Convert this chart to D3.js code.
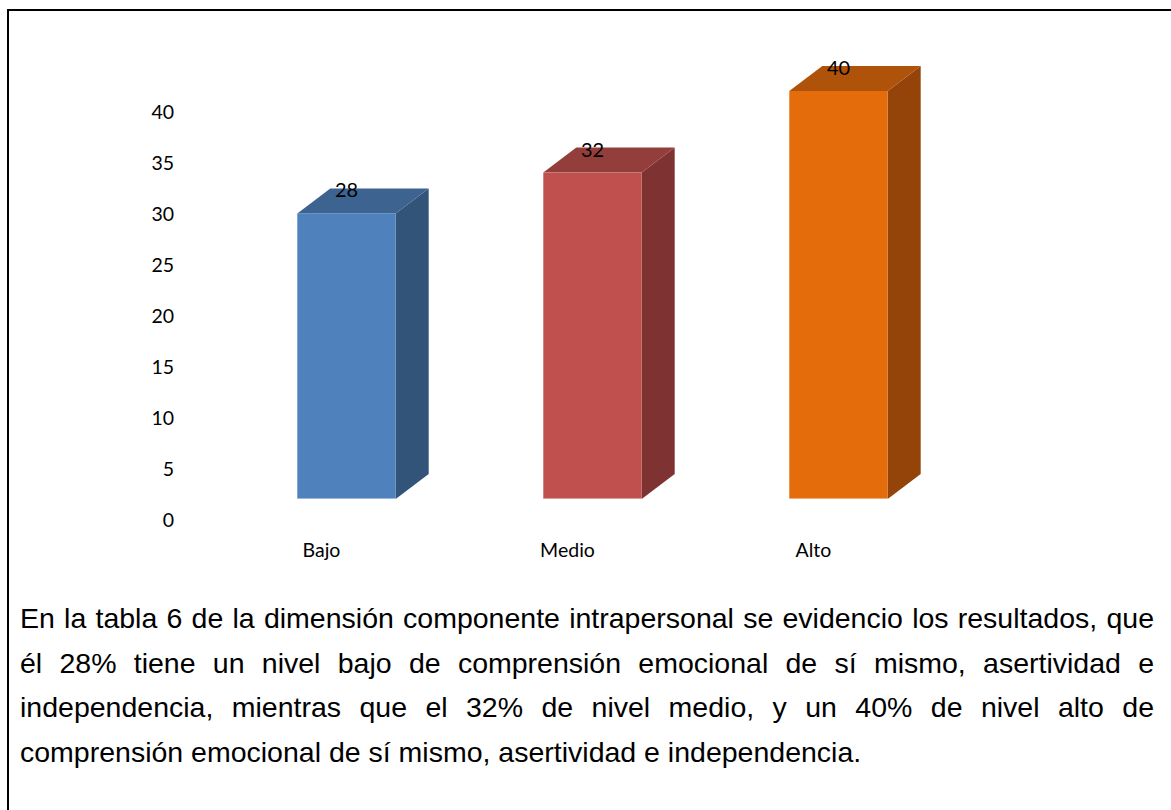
<!DOCTYPE html>
<html>
<head>
<meta charset="utf-8">
<script src="https://cdn.jsdelivr.net/npm/d3@7/dist/d3.min.js"></script>
<style>
  html, body { margin: 0; padding: 0; background: #fff; }
  svg { display: block; }
</style>
</head>
<body>
<svg id="chart" width="1171" height="810"></svg>
<script>
// Nivel de la dimensión componente intrapersonal (%)
const categories = ["Bajo", "Medio", "Alto"];
const values = [28, 32, 40];
const tickValues = [0, 5, 10, 15, 20, 25, 30, 35, 40];

// Face colours per bar: front, top, side
const frontColors = ["#4F81BD", "#C0504D", "#E46C0A"];
const topColors = ["#3D6391", "#943E3B", "#AF530A"];
const sideColors = ["#335479", "#7E3232", "#944408"];

const paragraphLines = [
  "En la tabla 6 de la dimensión componente intrapersonal se evidencio los resultados, que",
  "él 28% tiene un nivel bajo de comprensión emocional de sí mismo, asertividad e",
  "independencia, mientras que el 32% de nivel medio, y un 40% de nivel alto de",
  "comprensión emocional de sí mismo, asertividad e independencia."
];

const svg = d3.select("#chart");
const chartFont = "Lato, 'Open Sans', sans-serif";

// Frame around chart and commentary
svg.append("rect")
  .attr("x", 8).attr("y", 10)
  .attr("width", 1200).attr("height", 850)
  .attr("fill", "none")
  .attr("stroke", "#000")
  .attr("stroke-width", 2);

const x = d3.scaleBand()
  .domain(categories)
  .range([223.5, 961.5])
  .paddingInner(0.6)
  .paddingOuter(0.3);

const y = d3.scaleLinear().domain([0, 40]).range([499, 91]);

// 3D depth offset of each column
const depthX = 33, depthY = -25;

// Value axis (labels only)
const yAxis = svg.append("g")
  .attr("transform", "translate(177,21)")
  .call(d3.axisLeft(y).tickValues(tickValues).tickSize(0).tickPadding(3));
yAxis.select(".domain").remove();
yAxis.selectAll("text")
  .attr("font-family", chartFont)
  .attr("font-size", 19.5)
  .attr("fill", "#000");

const bars = svg.append("g")
  .selectAll("g")
  .data(categories.map((c, i) => ({ c, v: values[i], i })))
  .join("g");

// Side face
bars.append("path")
  .attr("d", d => {
    const x1 = x(d.c) + x.bandwidth();
    const yt = y(d.v), yb = y(0);
    return `M${x1},${yt} L${x1 + depthX},${yt + depthY} L${x1 + depthX},${yb + depthY} L${x1},${yb} Z`;
  })
  .attr("fill", d => sideColors[d.i]);

// Top face
bars.append("path")
  .attr("d", d => {
    const x0 = x(d.c), x1 = x0 + x.bandwidth();
    const yt = y(d.v);
    return `M${x0},${yt} L${x0 + depthX},${yt + depthY} L${x1 + depthX},${yt + depthY} L${x1},${yt} Z`;
  })
  .attr("fill", d => topColors[d.i]);

// Front face
bars.append("rect")
  .attr("x", d => x(d.c))
  .attr("y", d => y(d.v))
  .attr("width", x.bandwidth())
  .attr("height", d => y(0) - y(d.v))
  .attr("fill", d => frontColors[d.i]);

// Light edge along the bottom of each front face
bars.append("line")
  .attr("x1", d => x(d.c))
  .attr("x2", d => x(d.c) + x.bandwidth())
  .attr("y1", y(0) - 0.5)
  .attr("y2", y(0) - 0.5)
  .attr("stroke", "#fff")
  .attr("stroke-opacity", 0.45)
  .attr("stroke-width", 1);

// Data labels
bars.append("text")
  .attr("x", d => x(d.c) + x.bandwidth() / 2)
  .attr("y", d => y(d.v) - 16)
  .attr("text-anchor", "middle")
  .attr("font-family", chartFont)
  .attr("font-size", 20)
  .attr("fill", "#000")
  .text(d => d.v);

// Category labels
svg.append("g")
  .selectAll("text")
  .data(categories)
  .join("text")
  .attr("x", d => x(d) + x.bandwidth() / 2 - 25)
  .attr("y", 557)
  .attr("text-anchor", "middle")
  .attr("font-family", chartFont)
  .attr("font-size", 19.5)
  .attr("fill", "#000")
  .text(d => d);

// Justified commentary paragraph
const paraLeft = 20, paraRight = 1154, firstBaseline = 628, lineStep = 44.5;
const para = svg.append("g")
  .attr("font-family", "'Liberation Sans', Arial, sans-serif")
  .attr("font-size", 28.5)
  .attr("fill", "#000");

paragraphLines.forEach((line, li) => {
  const baseline = firstBaseline + li * lineStep;
  const isLast = li === paragraphLines.length - 1;
  if (isLast) {
    para.append("text").attr("x", paraLeft).attr("y", baseline).text(line);
    return;
  }
  const words = line.split(" ");
  const widths = words.map(w => {
    const t = para.append("text").text(w);
    const wd = t.node().getComputedTextLength();
    t.remove();
    return wd;
  });
  const total = d3.sum(widths);
  const gap = (paraRight - paraLeft - total) / (words.length - 1);
  let cx = paraLeft;
  words.forEach((w, wi) => {
    para.append("text").attr("x", cx).attr("y", baseline).text(w);
    cx += widths[wi] + gap;
  });
});
</script>
</body>
</html>
